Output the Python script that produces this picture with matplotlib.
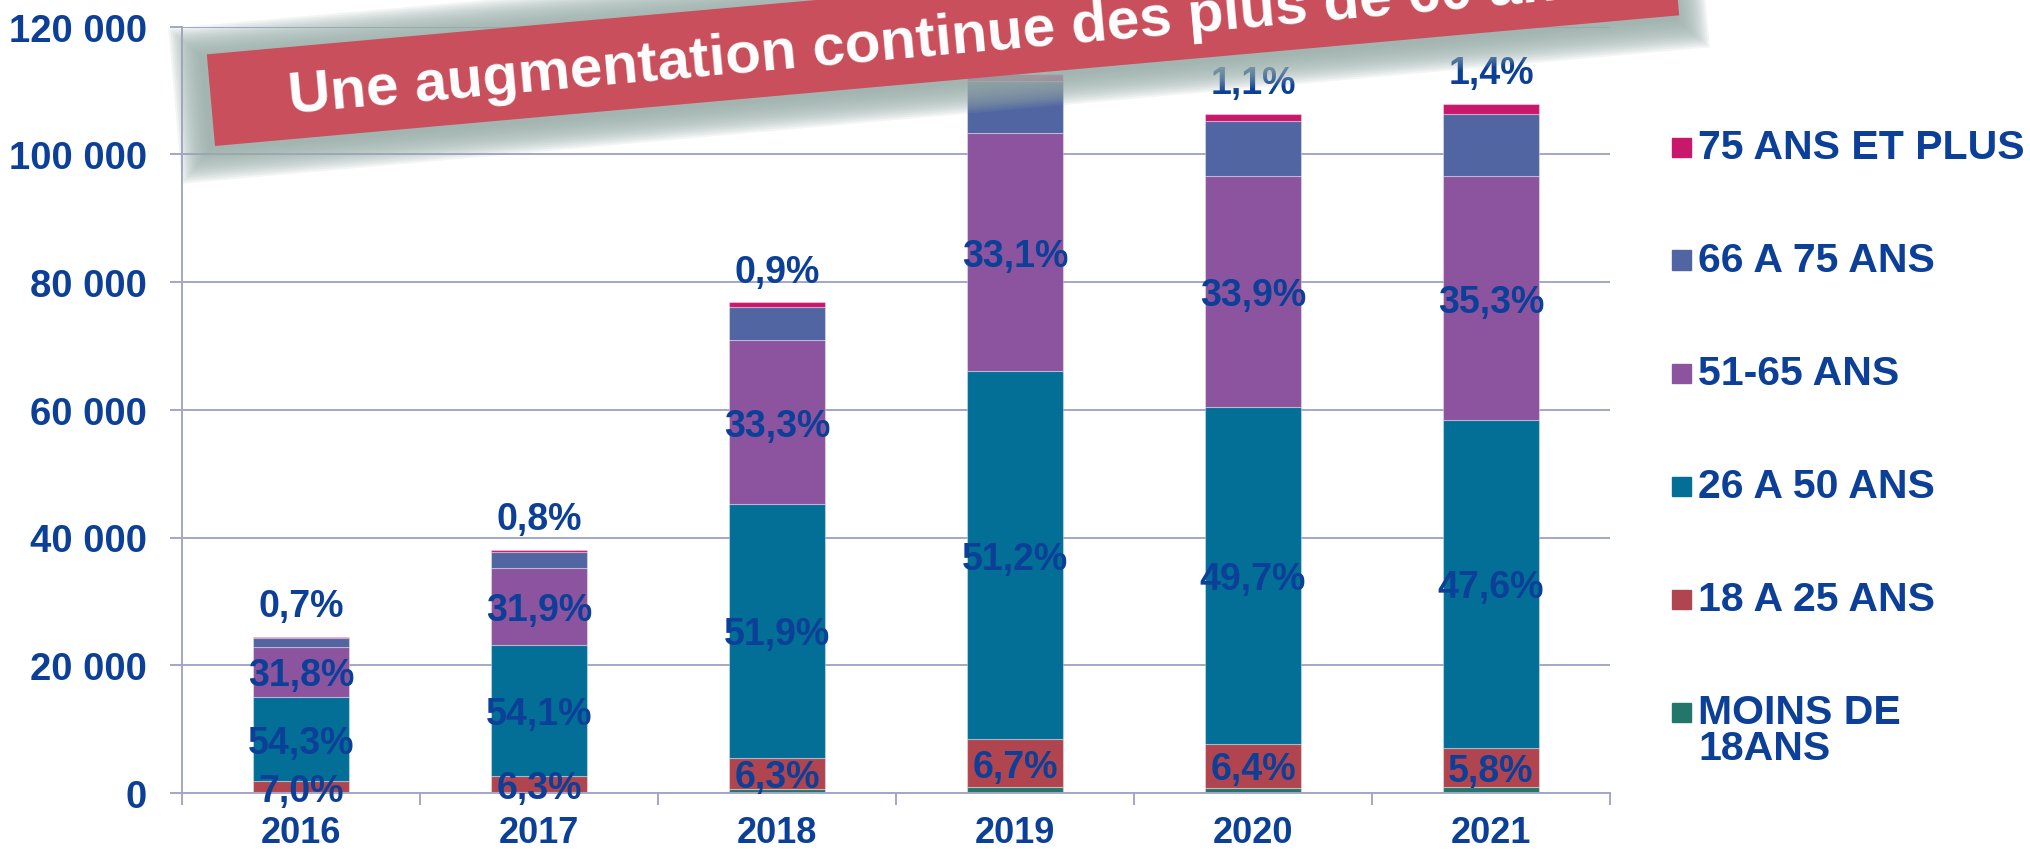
import numpy as np
import matplotlib
matplotlib.use("Agg")
import matplotlib.pyplot as plt
from matplotlib.patches import Polygon, Rectangle
from matplotlib.ticker import FuncFormatter

# data
years = ['2016', '2017', '2018', '2019', '2020', '2021']
totals = [24470, 38000, 76800, 112550, 106300, 107860]

pct_moins18 = [0.4, 0.5, 0.8, 0.8, 0.8, 0.8]
pct_18_25 = [7.0, 6.3, 6.3, 6.7, 6.4, 5.8]
pct_26_50 = [54.3, 54.1, 51.9, 51.2, 49.7, 47.6]
pct_51_65 = [31.8, 31.9, 33.3, 33.1, 33.9, 35.3]
pct_66_75 = [5.8, 6.4, 6.8, 7.2, 8.1, 9.1]
pct_75plus = [0.7, 0.8, 0.9, 1.0, 1.1, 1.4]

labels = ['MOINS DE\n18ANS', '18 A 25 ANS', '26 A 50 ANS', '51-65 ANS',
          '66 A 75 ANS', '75 ANS ET PLUS']
colors = ['#23776A', '#B0454F', '#036F97', '#8C539E', '#5065A1', '#C8186C']
shown = [False, True, True, True, False, True]   # which series carry % labels
title = 'Une augmentation continue des plus de 60 ans'

BLUE = '#0C3F97'
GRID = '#A3A6C8'
W, H = 2031, 854
plt.rcParams['font.family'] = ['Liberation Sans', 'DejaVu Sans']
plt.rcParams['font.weight'] = 'bold'

fig = plt.figure(figsize=(W / 100, H / 100), dpi=100)
ax = fig.add_axes([182 / W, 1 - 794 / H, (1610 - 182) / W, (794 - 27.5) / H])

x = np.arange(len(years))
tot = np.array(totals, dtype=float)
series = [pct_moins18, pct_18_25, pct_26_50, pct_51_65, pct_66_75, pct_75plus]
bottom = np.zeros(len(years))
for i, pct in enumerate(series):
    vals = tot * np.array(pct) / 100
    ax.bar(x, vals, 0.403, bottom=bottom, color=colors[i],
           edgecolor=(1, 1, 1, 0.35), linewidth=0.8, zorder=2)
    if shown[i]:
        for j in range(len(years)):
            txt = ('%.1f%%' % pct[j]).replace('.', ',')
            if i == 5:
                if j == 3:
                    continue  # hidden under the banner
                ax.annotate(txt, (x[j], bottom[j] + vals[j]), xytext=(0, 15),
                            textcoords='offset points', ha='center',
                            va='baseline', fontsize=27, color=BLUE, zorder=4)
            else:
                ax.annotate(txt, (x[j], bottom[j] + vals[j] / 2),
                            xytext=(0, -9.8), textcoords='offset points',
                            ha='center', va='baseline', fontsize=27,
                            color=BLUE, zorder=4)
    bottom += vals

ax.set_xlim(-0.5, len(years) - 0.5)
ax.set_ylim(0, 120000)
ax.set_yticks(np.arange(0, 120001, 20000))
ax.yaxis.set_major_formatter(FuncFormatter(lambda v, p: '{:,.0f}'.format(v).replace(',', ' ')))
ax.set_xticks(np.arange(-0.5, len(years), 1))
ax.set_xticklabels([])
ax.set_xticks(x, minor=True)
ax.set_xticklabels(years, minor=True)
ax.tick_params(axis='x', which='major', direction='out', length=8.6, width=1.4, color=GRID)
ax.tick_params(axis='x', which='minor', length=0, pad=16, labelsize=26, labelcolor=BLUE)
ax.tick_params(axis='y', direction='out', length=8.6, width=1.4, color=GRID,
               pad=16.5, labelsize=27.5, labelcolor=BLUE)
ax.yaxis.grid(True, color=GRID, linewidth=1.4, zorder=0)
ax.set_axisbelow(True)
for s in ['top', 'right']:
    ax.spines[s].set_visible(False)
for s in ['left', 'bottom']:
    ax.spines[s].set_color(GRID)
    ax.spines[s].set_linewidth(1.4)

# legend, top entry first
for k, i in enumerate(range(len(labels) - 1, -1, -1)):
    yc = 148 + k * 113
    fig.patches.append(Rectangle((1672 / W, 1 - (yc + 9.5) / H), 19 / W, 19 / H,
                                 transform=fig.transFigure, color=colors[i]))
    if '\n' in labels[i]:
        fig.text(1698 / W, 1 - (yc + 18) / H, labels[i], fontsize=29.5, color=BLUE,
                 va='center', ha='left', linespacing=0.95)
    else:
        fig.text(1698 / W, 1 - yc / H, labels[i], fontsize=29.5, color=BLUE,
                 va='center', ha='left')

# tilted banner with blurred shadow
th = np.deg2rad(5.1)
u = np.array([np.cos(th), -np.sin(th)])
n = np.array([-np.sin(th), -np.cos(th)])
p0 = np.array([215.0, 147.0])
L, T = 1470.0, 92.0


def corners(m, dx=0.0, dy=0.0):
    pts = [p0 - m * u - m * n, p0 + (L + m) * u - m * n,
           p0 + (L + m) * u + (T + m) * n, p0 - m * u + (T + m) * n]
    return [((p[0] + dx) / W, 1 - (p[1] + dy) / H) for p in pts]


for m in range(32, 0, -2):
    fig.patches.append(Polygon(corners(m, -4, 3), closed=True, transform=fig.transFigure,
                               color='#9AAEAA', alpha=0.12, lw=0))
fig.patches.append(Polygon(corners(0), closed=True, transform=fig.transFigure,
                           color='#C84F5B', lw=0))
fig.text(290 / W, 1 - 113 / H, title, fontsize=42, color='white', rotation=5.1,
         rotation_mode='anchor', ha='left', va='baseline')

fig.savefig('out.png', dpi=100)
